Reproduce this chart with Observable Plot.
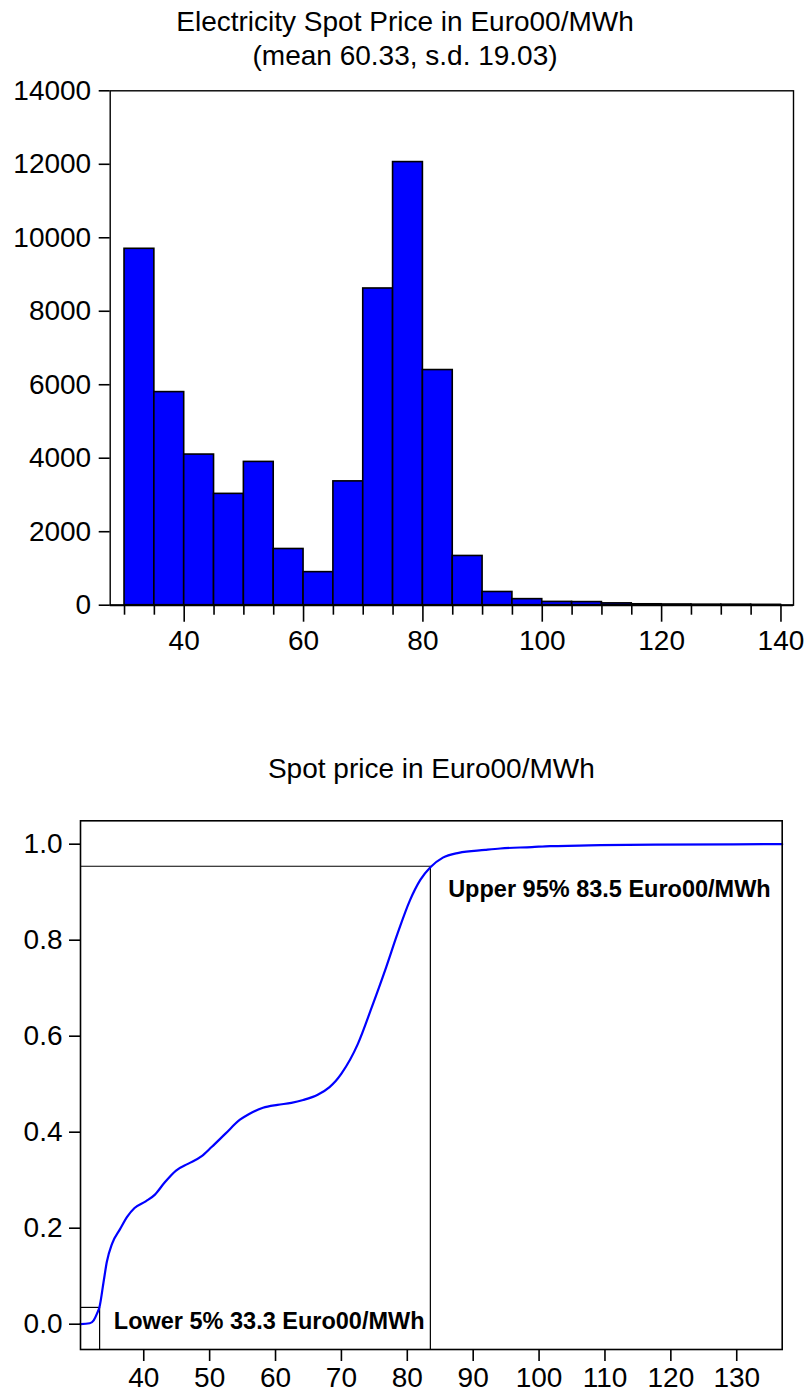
<!DOCTYPE html>
<html><head><meta charset="utf-8">
<script src="https://cdn.jsdelivr.net/npm/d3@7"></script>
<script src="https://cdn.jsdelivr.net/npm/@observablehq/plot@0.6"></script>
<style>
body{margin:0;background:#fff;}
#wrap{position:relative;width:809px;height:1398px;overflow:hidden;}
#wrap svg{position:absolute;left:0;display:block;overflow:visible;}
</style></head><body><div id="wrap"></div>
<script>
// ---------- Histogram data ----------
const histTitle = "Electricity Spot Price in Euro00/MWh";
const histSubtitle = "(mean 60.33, s.d. 19.03)";
const binStart = [30, 35, 40, 45, 50, 55, 60, 65, 70, 75, 80, 85, 90, 95, 100, 105, 110, 115, 120, 125, 130, 135];
const binEnd   = [35, 40, 45, 50, 55, 60, 65, 70, 75, 80, 85, 90, 95, 100, 105, 110, 115, 120, 125, 130, 135, 140];
const binCount = [9700, 5800, 4100, 3030, 3900, 1530, 900, 3370, 8620, 12060, 6400, 1340, 360, 165, 90, 85, 50, 25, 20, 15, 15, 10];
const histYTicks = [0, 2000, 4000, 6000, 8000, 10000, 12000, 14000];
const histXMajor = [40, 60, 80, 100, 120, 140];
const histXMinor = [30, 35, 45, 50, 55, 65, 70, 75, 85, 90, 95, 105, 110, 115, 125, 130, 135];

// ---------- CDF data ----------
const cdfTitle = "Spot price in Euro00/MWh";
const cdfPrice = [30.4, 31.8, 32.4, 32.9, 33.3, 33.9, 34.4, 35.2, 36.4, 37.5, 38.6, 40.3, 41.7, 43.1, 44.9, 46.7, 48.8, 50.3, 52.4, 54.6, 56.0, 58.1, 60.3, 62.4, 64.2, 66.4, 68.2, 69.1, 70.0, 72.5, 74.6, 76.8, 78.5, 80.4, 82.0, 83.5, 85.4, 87.8, 91.8, 94.1, 98.9, 101.7, 106.1, 109.3, 117.6, 136.9];
const cdfProb  = [0.000, 0.002, 0.008, 0.022, 0.037, 0.088, 0.130, 0.168, 0.198, 0.224, 0.242, 0.256, 0.270, 0.294, 0.320, 0.334, 0.350, 0.369, 0.397, 0.426, 0.438, 0.451, 0.457, 0.461, 0.467, 0.478, 0.494, 0.506, 0.522, 0.584, 0.660, 0.744, 0.813, 0.883, 0.926, 0.952, 0.972, 0.982, 0.988, 0.991, 0.994, 0.996, 0.997, 0.998, 0.999, 1.000];
const cdfYTicks = [0.0, 0.2, 0.4, 0.6, 0.8, 1.0];
const cdfXTicks = [40, 50, 60, 70, 80, 90, 100, 110, 120, 130];
const lowerPrice = 33.3, lowerLevel = 0.035;
const upperPrice = 83.5, upperLevel = 0.954;
const annText = ["Lower 5% 33.3 Euro00/MWh", "Upper 95% 83.5 Euro00/MWh"];
const annX = [35.45, 86.2];
const annY = [-0.009, 0.891];

const FONT = "'Liberation Sans', Arial, Helvetica, sans-serif";
const BLUE = "#0000ff";

// ---------- Histogram ----------
const bins = binStart.map((s, i) => ({x1: s, x2: binEnd[i], count: binCount[i]}));
const hx = [27.6, 142.1];
const hist = Plot.plot({
  width: 809, height: 700,
  marginLeft: 109.7, marginRight: 16, marginTop: 90.3, marginBottom: 95.3,
  style: {fontFamily: FONT, color: "black", background: "white", overflow: "visible"},
  x: {domain: hx, label: null},
  y: {domain: [0, 14000], label: null},
  marks: [
    Plot.rectY(bins, {x1: "x1", x2: "x2", y: "count", fill: BLUE, stroke: "black", strokeWidth: 1.6}),
    Plot.frame({stroke: "black", strokeWidth: 1.4}),
    Plot.ruleY([0], {stroke: "black", strokeWidth: 2}),
    Plot.axisY(histYTicks, {tickSize: 11, tickPadding: 8, fontSize: 28, strokeWidth: 1.6, tickFormat: d => String(d)}),
    Plot.axisX(histXMinor, {tickSize: 10, strokeWidth: 1.6, tickFormat: () => ""}),
    Plot.axisX(histXMajor, {tickSize: 17, tickPadding: 8, fontSize: 28, strokeWidth: 1.6, tickFormat: d => String(d)}),
    Plot.text([histTitle], {text: d => d, frameAnchor: "top", dx: -46.8, dy: 30 - 90.3, lineAnchor: "bottom", fontSize: 28, fill: "black"}),
    Plot.text([histSubtitle], {text: d => d, frameAnchor: "top", dx: -46.8, dy: 64 - 90.3, lineAnchor: "bottom", fontSize: 28, fill: "black"})
  ]
});
hist.style.top = "0px";
document.getElementById("wrap").appendChild(hist);

// ---------- CDF ----------
const cdf = cdfPrice.map((p, i) => ({p, q: cdfProb[i]}));
const cx = [30.4, 136.9], cy = [-0.0527, 1.0487];
const ann = annText.map((t, i) => ({t, x: annX[i], y: annY[i]}));
const cdfPlot = Plot.plot({
  width: 809, height: 698,
  marginLeft: 80, marginRight: 27.3, marginTop: 120.3, marginBottom: 49,
  style: {fontFamily: FONT, color: "black", background: "white", overflow: "visible"},
  x: {domain: cx, label: null},
  y: {domain: cy, label: null},
  marks: [
    Plot.ruleY([lowerLevel], {x1: cx[0], x2: lowerPrice, stroke: "black", strokeWidth: 1.2}),
    Plot.ruleX([lowerPrice], {y1: cy[0], y2: lowerLevel, stroke: "black", strokeWidth: 1.2}),
    Plot.ruleY([upperLevel], {x1: cx[0], x2: upperPrice, stroke: "black", strokeWidth: 1.2}),
    Plot.ruleX([upperPrice], {y1: cy[0], y2: upperLevel, stroke: "black", strokeWidth: 1.2}),
    Plot.line(cdf, {x: "p", y: "q", stroke: BLUE, strokeWidth: 2.2, curve: "monotone-x"}),
    Plot.frame({stroke: "black", strokeWidth: 1.6}),
    Plot.axisY(cdfYTicks, {tickSize: 11, tickPadding: 7, fontSize: 28, strokeWidth: 1.6, tickFormat: d3.format(".1f")}),
    Plot.axisX(cdfXTicks, {tickSize: 12, tickPadding: 6, fontSize: 28, strokeWidth: 1.6, tickFormat: d => String(d)}),
    Plot.text(ann, {x: "x", y: "y", text: "t", textAnchor: "start", lineAnchor: "bottom", fontSize: 23.5, fontWeight: "bold", fill: "black"}),
    Plot.text([cdfTitle], {text: d => d, frameAnchor: "top", dy: 777 - 820.3, lineAnchor: "bottom", fontSize: 28, fill: "black"})
  ]
});
cdfPlot.style.top = "700px";
document.getElementById("wrap").appendChild(cdfPlot);
</script>
</body></html>
